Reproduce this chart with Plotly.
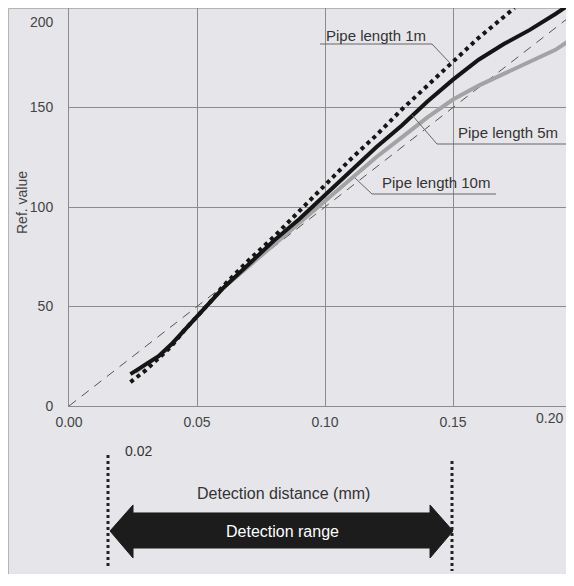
import plotly.graph_objects as go

# curves (detection distance mm -> ref. value)
dist_1m = [0.024, 0.03, 0.035, 0.04, 0.045, 0.05, 0.055, 0.06, 0.07, 0.08, 0.09, 0.10, 0.11, 0.12, 0.13, 0.14, 0.15, 0.16, 0.174]
ref_1m = [12, 18, 24, 30, 38, 45, 52, 60, 73, 85, 98, 111, 124, 136, 149, 161, 173, 185, 200]

dist_5m = [0.024, 0.03, 0.035, 0.04, 0.045, 0.05, 0.055, 0.06, 0.07, 0.08, 0.09, 0.10, 0.11, 0.12, 0.13, 0.14, 0.15, 0.16, 0.17, 0.18, 0.19, 0.197]
ref_5m = [16, 21, 25, 31, 38, 45, 52, 59, 71, 83, 94, 106, 118, 130, 141, 153, 164, 174, 182, 189, 197, 203]

dist_10m = [0.026, 0.03, 0.035, 0.04, 0.045, 0.05, 0.055, 0.06, 0.07, 0.08, 0.09, 0.10, 0.11, 0.12, 0.13, 0.14, 0.15, 0.16, 0.17, 0.18, 0.19, 0.197]
ref_10m = [17, 21, 25, 31, 38, 45, 52, 59, 70, 81, 92, 103, 114, 125, 135, 145, 154, 161, 167, 173, 179, 185]

dist_ref = [0.0, 0.2]
ref_ref = [0, 200]

x_ticks = [0.0, 0.05, 0.10, 0.15]
x_ticktext = ["0.00", "0.05", "0.10", "0.15"]
y_ticks = [0, 50, 100, 150]

FONT = "Liberation Sans, Arial, sans-serif"
GRID = "#8c8c8c"
PANEL = "#e6e6ea"

# page has an 8px body margin; plot area on the page: x 69..566, y 8..406
OFF = 8
W, H = 558, 566
L, R, T, B = 61, 0, 0, 168
PW, PH = W - L - R, H - T - B


def px(x):
    # page pixel -> paper x
    return (x - OFF - L) / PW


def py(y):
    # page pixel -> paper y
    return (OFF + T + PH - y) / PH


def note(text, x, y, size=14, color="#333333", xanchor="center", angle=0):
    return dict(text=text, x=px(x), y=py(y), xref="paper", yref="paper", showarrow=False,
                xanchor=xanchor, yanchor="middle", textangle=angle,
                font=dict(family=FONT, size=size, color=color))


fig = go.Figure()

fig.add_trace(go.Scatter(x=dist_ref, y=ref_ref, mode="lines",
                         line=dict(color="#555555", width=1, dash="9px,7px")))
fig.add_trace(go.Scatter(x=dist_10m, y=ref_10m, mode="lines",
                         line=dict(color="#a3a3a3", width=4)))
fig.add_trace(go.Scatter(x=dist_5m, y=ref_5m, mode="lines",
                         line=dict(color="#151515", width=4)))
fig.add_trace(go.Scatter(x=dist_1m, y=ref_1m, mode="lines",
                         line=dict(color="#151515", width=4, dash="4px,4px")))

shapes = []
# thin frame round the grey panel
shapes.append(dict(type="rect", xref="paper", yref="paper", layer="below",
                   x0=px(8.5), x1=px(580), y0=py(8.5), y1=py(590),
                   fillcolor=PANEL, line=dict(color="#b4b4b4", width=1)))

# curve labels with underline and leader
labels = [
    ("Pipe length 1m", 376, 36, 320, 432, 44, (432, 44), (450, 63)),
    ("Pipe length 5m", 508, 133, 437, 566, 144, (437, 144), (412, 115)),
    ("Pipe length 10m", 436, 183, 372, 496, 194, (372, 194), (355, 178)),
]
annotations = []
for text, cx, cy, ux0, ux1, uy, p0, p1 in labels:
    annotations.append(note(text, cx, cy, size=15))
    shapes.append(dict(type="line", xref="paper", yref="paper", x0=px(ux0), x1=px(ux1),
                       y0=py(uy), y1=py(uy), line=dict(color="#666666", width=1)))
    shapes.append(dict(type="line", xref="paper", yref="paper", x0=px(p0[0]), x1=px(p1[0]),
                       y0=py(p0[1]), y1=py(p1[1]), line=dict(color="#666666", width=1)))

# detection range markers
shapes.append(dict(type="line", xref="paper", yref="paper", x0=px(108), x1=px(108),
                   y0=py(455), y1=py(566), line=dict(color="#222222", width=3, dash="3px,3px")))
shapes.append(dict(type="line", xref="paper", yref="paper", x0=px(452), x1=px(452),
                   y0=py(461), y1=py(571), line=dict(color="#222222", width=3, dash="3px,3px")))

arrow = [(110, 531), (133, 505), (133, 513), (430, 513), (430, 505), (453, 531),
         (430, 558), (430, 548), (133, 548), (133, 558)]
path = "M " + " L ".join(f"{px(a):.4f},{py(b):.4f}" for a, b in arrow) + " Z"
shapes.append(dict(type="path", xref="paper", yref="paper", path=path,
                   fillcolor="#1c1c1c", line=dict(color="#1c1c1c", width=1)))

annotations += [
    note("0.02", 138, 451),
    note("Detection distance (mm)", 283, 493, size=16),
    note("Detection range", 282, 531, size=16, color="white"),
    note("Ref. value", 22, 203, color="#444444", angle=-90),
    note("200", 56, 22, color="#444444", xanchor="right"),
    note("0.20", 565, 418, color="#444444", xanchor="right"),
]

fig.update_layout(
    width=W, height=H,
    margin=dict(l=L, r=R, t=T, b=B),
    paper_bgcolor=PANEL,
    plot_bgcolor="white",
    showlegend=False,
    hovermode=False,
    font=dict(family=FONT, size=14, color="#444444"),
    shapes=shapes,
    annotations=annotations,
    xaxis=dict(range=[0, PW / 2560], tickvals=x_ticks, ticktext=x_ticktext,
               showgrid=True, gridcolor=GRID, gridwidth=1, zeroline=False,
               showline=True, linecolor=GRID, mirror=True, ticks="",
               ticklabelstandoff=3),
    yaxis=dict(range=[0, 200], tickvals=y_ticks,
               showgrid=True, gridcolor=GRID, gridwidth=1, zeroline=False,
               showline=True, linecolor=GRID, mirror=True, ticks="",
               ticklabelstandoff=12),
)

fig.write_html("out.html")
